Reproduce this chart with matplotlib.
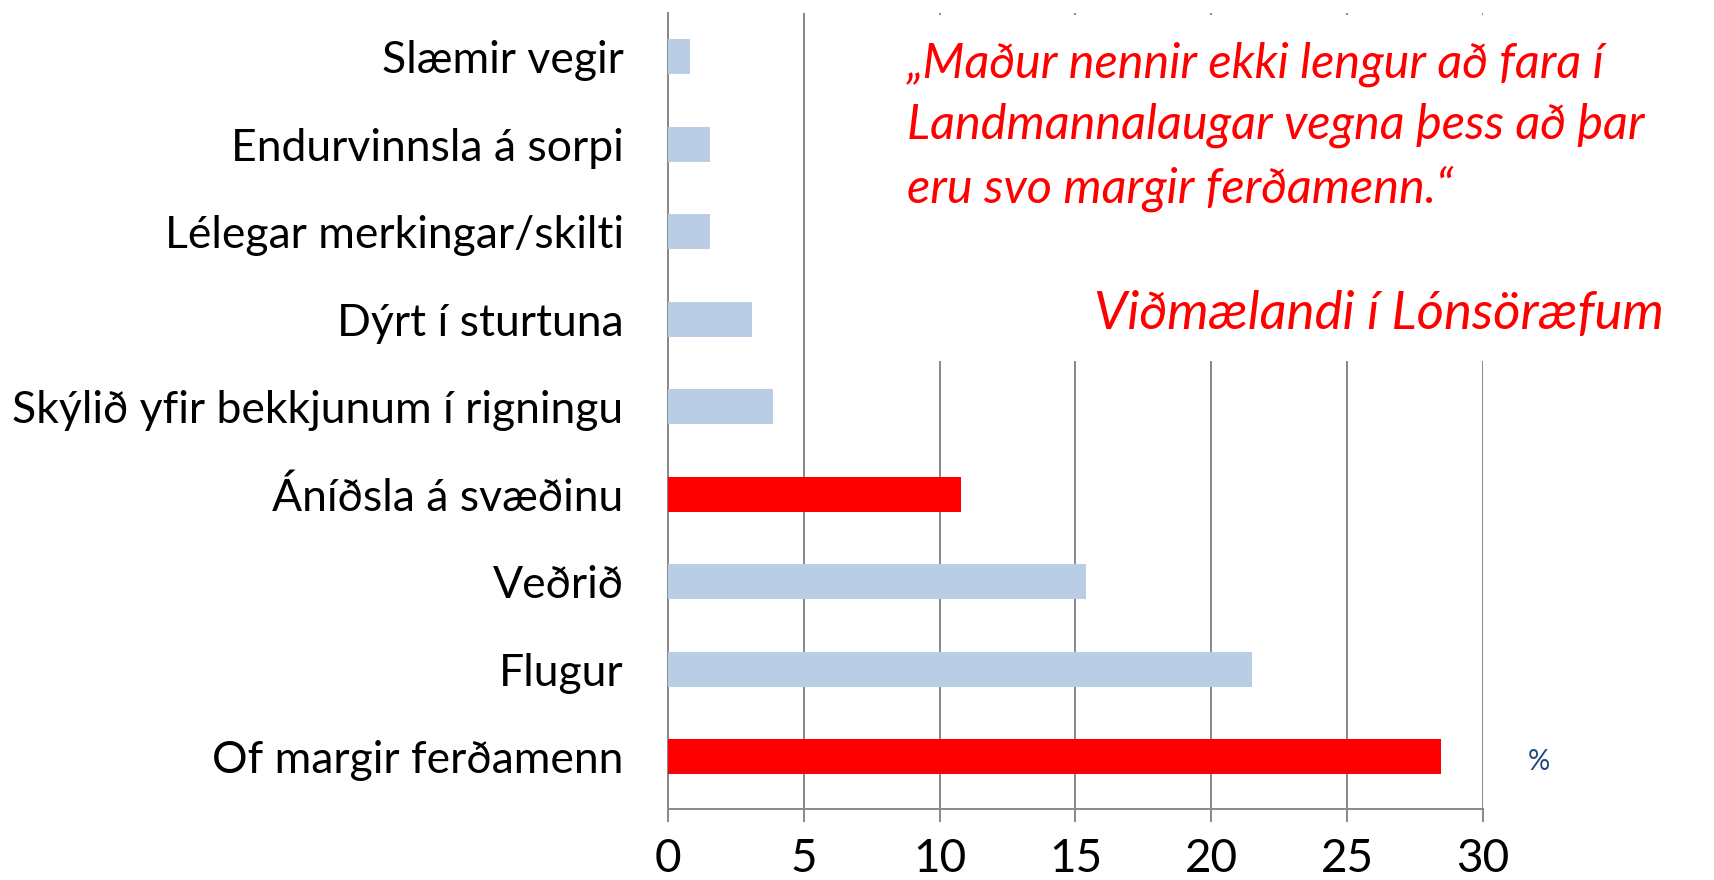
import matplotlib.pyplot as plt
from matplotlib.patches import Rectangle

categories = ['Slæmir vegir', 'Endurvinnsla á sorpi', 'Lélegar merkingar/skilti',
              'Dýrt í sturtuna', 'Skýlið yfir bekkjunum í rigningu', 'Áníðsla á svæðinu',
              'Veðrið', 'Flugur', 'Of margir ferðamenn']
values = [0.8, 1.55, 1.55, 3.1, 3.85, 10.8, 15.4, 21.5, 28.45]
highlight = [False, False, False, False, False, True, False, False, True]
xticks = [0, 5, 10, 15, 20, 25, 30]

quote = '„Maður nennir ekki lengur að fara í\nLandmannalaugar vegna þess að þar\neru svo margir ferðamenn.“'
source = 'Viðmælandi í Lónsöræfum'

plt.rcParams['font.family'] = ['Lato', 'DejaVu Sans']

fig = plt.figure(figsize=(17.14, 8.8), dpi=100)
ax = fig.add_axes([0.3897, 0.0807, 0.4755, 0.9045])

colors = ['#ff0000' if h else '#b9cde5' for h in highlight]
ypos = list(range(len(categories)))
ax.barh(ypos, values, height=0.4, color=colors, zorder=3)

ax.set_xlim(0, 30)
ax.set_ylim(8.6, -0.5)
ax.set_xticks(xticks)
ax.set_yticks(ypos)
ax.set_yticklabels(categories, fontsize=32)
ax.tick_params(axis='y', length=0, pad=32)
ax.tick_params(axis='x', length=9, width=1.4, color='#888888', pad=12, labelsize=33)
ax.xaxis.grid(True, color='#888888', linewidth=1.4, zorder=0)
ax.set_axisbelow(True)
for s in ['top', 'right']:
    ax.spines[s].set_visible(False)
for s in ['left', 'bottom']:
    ax.spines[s].set_color('#888888')
    ax.spines[s].set_linewidth(1.4)

# white text box covering the gridlines
fig.patches.append(Rectangle((0.523, 0.59), 0.48, 0.393, transform=fig.transFigure,
                             facecolor='white', edgecolor='none', zorder=2))
fig.text(0.529, 0.953, quote, color='#ff0000', fontsize=35, style='italic',
         ha='left', va='top', linespacing=1.45, zorder=3)
fig.text(0.971, 0.643, source, color='#ff0000', fontsize=38, style='italic',
         ha='right', va='center', zorder=3)
fig.text(0.898, 0.134, '%', color='#1f497d', fontsize=20, ha='center', va='center')

fig.savefig('out.png', dpi=100)
